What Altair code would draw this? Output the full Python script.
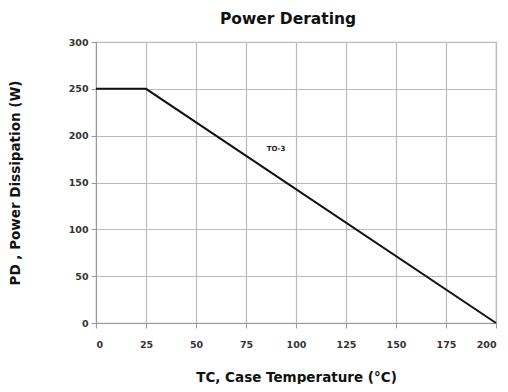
import altair as alt
import pandas as pd

temps = [0, 25, 200]
power = [250, 250, 0]
x_ticks = [0, 25, 50, 75, 100, 125, 150, 175, 200]
y_ticks = [0, 50, 100, 150, 200, 250, 300]
label_text = ["TO-3"]
label_x = [90]
label_y = [186]

df = pd.DataFrame({"t": temps, "p": power})
lab = pd.DataFrame({"t": label_x, "p": label_y, "s": label_text})

FONT = "DejaVu Sans"

xenc = alt.X("t:Q", scale=alt.Scale(domain=[0, 200], nice=False),
             axis=alt.Axis(values=x_ticks, title="TC, Case Temperature (°C)",
                           titleFontSize=13.5, titleFontWeight="bold", titlePadding=22,
                           titleColor="#111", labelFontSize=9.5, labelFontWeight="bold",
                           labelColor="#333",
                           labelPadding=11, tickSize=5, tickColor="#999",
                           domainColor="#999", gridColor="#bbb", gridWidth=1.2))
yenc = alt.Y("p:Q", scale=alt.Scale(domain=[0, 300], nice=False),
             axis=alt.Axis(values=y_ticks, title="PD , Power Dissipation (W)",
                           titleFontSize=13.5, titleFontWeight="bold", titlePadding=46,
                           titleColor="#111", labelFontSize=9.5, labelFontWeight="bold",
                           labelColor="#333",
                           labelPadding=3, tickSize=5, tickColor="#999",
                           domainColor="#999", gridColor="#bbb", gridWidth=1.2))

line = alt.Chart(df).mark_line(color="#111", strokeWidth=2).encode(x=xenc, y=yenc)
text = alt.Chart(lab).mark_text(fontSize=7, font=FONT, fontWeight="bold", color="#222").encode(
    x="t:Q", y="p:Q", text="s:N")

chart = (line + text).properties(
    width=400, height=281,
    title=alt.TitleParams("Power Derating", fontSize=15.5, fontWeight="bold", font=FONT,
                          color="#111", offset=10, dx=-8),
    autosize=alt.AutoSizeParams(type="none"),
    padding={"left": 88, "top": 34, "right": 4, "bottom": 61},
).configure(font=FONT).configure_view(stroke="#bbb", strokeWidth=1.2)

chart.save("out.html", embed_options={"renderer": "svg", "actions": False})
